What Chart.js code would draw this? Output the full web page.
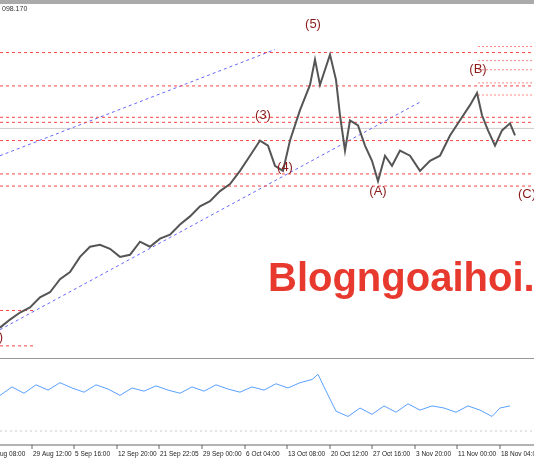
<!DOCTYPE html><html><head><script src="https://cdn.jsdelivr.net/npm/chart.js@4"></script>
<style>body{margin:0;background:#fff;width:534px;height:462px;overflow:hidden}#t{position:absolute;left:0;top:0;width:534px;height:4px;background:#aaa}</style></head><body>
<div id="t"></div>
<div style="position:absolute;left:0;top:4px;width:534px;height:354px"><canvas id="m"></canvas></div>
<div style="position:absolute;left:0;top:358px;width:534px;height:104px;border-top:1px solid #999"><canvas id="o"></canvas></div>
<script>
// price path (x position index, price level)
const priceX=[0,10,20,30,40,50,60,70,80,90,100,110,120,130,140,150,160,170,180,190,200,210,220,230,240,250,260,268,275,283,290,300,310,315,320,325,330,336,340,345,350,358,365,372,378,385,392,400,410,420,430,440,450,460,470,477,482,488,495,502,510,515];
const priceY=[80,88,95,100,110,115,128,135,150,160,162,158,150,152,165,160,168,172,182,190,200,205,215,222,235,250,265,260,240,235,265,295,320,345,320,335,350,325,290,255,285,280,260,245,225,250,240,255,250,235,245,250,270,285,300,312,290,275,260,275,282,270];
const hLevels=[352,319,288,283,265,232,220];
const shortLevels=[97,62];
const rightLevels=[358,344,335,322,310];
const chanUpper=[[0,250],[275,355]];
const chanLower=[[0,78],[420,303]];
const oscX=[0,12,24,36,48,60,72,84,96,108,120,132,144,156,168,180,192,204,216,228,240,252,264,276,288,300,312,318,324,336,348,360,372,384,396,408,420,432,444,456,468,480,492,500,510];
const oscY=[40,48,42,50,45,52,47,43,50,46,40,47,44,49,45,42,48,44,50,46,43,48,45,51,47,52,55,60,48,25,20,28,22,30,24,32,26,30,28,24,30,26,20,28,30];
const dateLabels=['29 Aug 12:00','5 Sep 16:00','12 Sep 20:00','21 Sep 22:05','29 Sep 00:00','6 Oct 04:00','13 Oct 08:00','20 Oct 12:00','27 Oct 16:00','3 Nov 20:00','11 Nov 00:00','18 Nov 04:00'];
const datePos=[32,74,117,159,202,245,287,330,372,415,457,500];
const waveLabels=[['(5)',313,380],['(3)',263,290],['(4)',285,238],['(A)',378,215],['(B)',478,335],['(C)',527,212],[')',1,70]];

const ds=[];
ds.push({data:priceX.map((x,i)=>({x,y:priceY[i]})),borderColor:'#555',borderWidth:2,pointRadius:0,tension:0});
hLevels.forEach(v=>ds.push({data:[{x:0,y:v},{x:534,y:v}],borderColor:'#f44',borderDash:[3,3],borderWidth:1,pointRadius:0}));
shortLevels.forEach(v=>ds.push({data:[{x:0,y:v},{x:35,y:v}],borderColor:'#f44',borderDash:[3,3],borderWidth:1,pointRadius:0}));
rightLevels.forEach(v=>ds.push({data:[{x:478,y:v},{x:534,y:v}],borderColor:'#f88',borderDash:[2,2],borderWidth:1,pointRadius:0}));
[chanUpper,chanLower].forEach(c=>ds.push({data:c.map(p=>({x:p[0],y:p[1]})),borderColor:'#66f',borderDash:[3,3],borderWidth:1,pointRadius:0}));
ds.push({data:[{x:0,y:277},{x:534,y:277}],borderColor:'#ccc',borderWidth:1,pointRadius:0});
const txt={id:'txt',afterDatasetsDraw(c){const g=c.ctx,xs=c.scales.x,ys=c.scales.y;g.save();
g.font='13px "Liberation Sans"';g.fillStyle='#8b1a1a';g.textAlign='center';g.textBaseline='middle';
waveLabels.forEach(w=>g.fillText(w[0],xs.getPixelForValue(w[1]),ys.getPixelForValue(w[2])));
g.font='7px "Liberation Sans"';g.fillStyle='#333';g.textAlign='left';g.fillText('098.170',2,5);
g.font='bold 40px "Liberation Sans"';g.fillStyle='#e8392f';g.strokeStyle='#fff';g.lineWidth=3;g.textAlign='left';
g.strokeText('Blogngoaihoi.co',268,276);g.fillText('Blogngoaihoi.co',268,276);g.restore();}};
const lin={type:'linear',display:false,min:0,max:534};
new Chart(document.getElementById('m'),{type:'line',data:{datasets:ds},plugins:[txt],options:{animation:false,responsive:true,maintainAspectRatio:false,layout:{padding:0},plugins:{legend:{display:false},tooltip:{enabled:false}},scales:{x:lin,y:{display:false,min:50,max:400}}}});
const ax={id:'ax',afterDraw(c){const g=c.ctx,xs=c.scales.x;g.save();g.strokeStyle='#666';g.beginPath();g.moveTo(0,86);g.lineTo(534,86);g.stroke();
g.font='6.5px "Liberation Sans"';g.fillStyle='#222';g.textBaseline='middle';
g.fillText('ug 08:00',0,95);datePos.forEach((p,i)=>{const px=xs.getPixelForValue(p);g.beginPath();g.moveTo(px,86);g.lineTo(px,90);g.stroke();g.fillText(dateLabels[i],px+1,95);});
g.strokeStyle='#ccc';g.setLineDash([2,3]);g.beginPath();g.moveTo(0,72);g.lineTo(534,72);g.stroke();g.restore();}};
new Chart(document.getElementById('o'),{type:'line',data:{datasets:[{data:oscX.map((x,i)=>({x,y:oscY[i]})),borderColor:'#5aa0ff',borderWidth:1,pointRadius:0}]},plugins:[ax],options:{animation:false,responsive:true,maintainAspectRatio:false,layout:{padding:{top:10,bottom:36}},plugins:{legend:{display:false},tooltip:{enabled:false}},scales:{x:lin,y:{display:false,min:10,max:65}}}});
</script></body></html>
